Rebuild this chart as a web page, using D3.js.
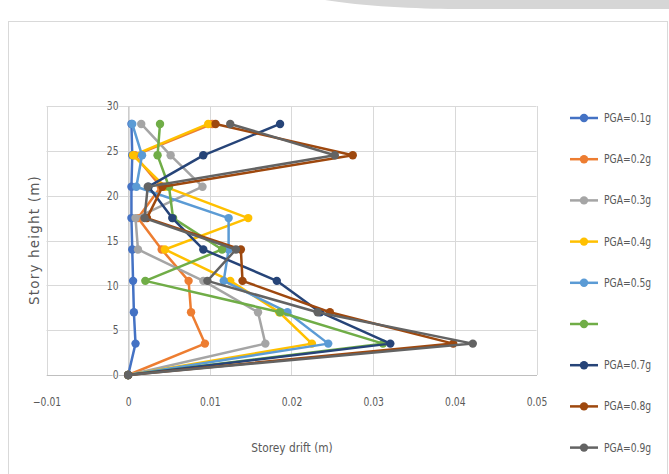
<!DOCTYPE html>
<html>
<head>
<meta charset="utf-8">
<script src="https://cdn.jsdelivr.net/npm/d3@7"></script>
<style>
  html, body { margin: 0; padding: 0; background: #fff; }
  svg { display: block; }
  text { font-family: "DejaVu Sans", sans-serif; }
</style>
</head>
<body>
<svg id="chart" width="669" height="474"></svg>
<script>
// Storey heights (m) shared by every series
const heights = [0, 3.5, 7, 10.5, 14, 17.5, 21, 24.5, 28];

// Storey drift (m) per PGA level, listed bottom to top
const pga01 = [0, 0.0009, 0.0007, 0.0006, 0.0005, 0.0004, 0.0004, 0.0005, 0.0004];
const pga02 = [0, 0.0094, 0.0077, 0.0074, 0.0041, 0.0012, 0.0040, 0.0008, 0.0103];
const pga03 = [0, 0.0168, 0.0159, 0.0092, 0.0012, 0.0009, 0.0091, 0.0052, 0.0016];
const pga04 = [0, 0.0225, 0.0185, 0.0125, 0.0045, 0.0147, 0.0045, 0.0006, 0.0098];
const pga05 = [0, 0.0245, 0.0195, 0.0117, 0.0123, 0.0123, 0.0010, 0.0017, 0.0005];
const pga06 = [0, 0.0312, 0.0186, 0.0021, 0.0115, 0.0055, 0.0050, 0.0036, 0.0039];
const pga07 = [0, 0.0321, 0.0235, 0.0182, 0.0092, 0.0054, 0.0025, 0.0092, 0.0186];
const pga08 = [0, 0.0398, 0.0247, 0.0140, 0.0138, 0.0023, 0.0042, 0.0275, 0.0107];
const pga09 = [0, 0.0422, 0.0232, 0.0097, 0.0132, 0.0020, 0.0024, 0.0253, 0.0125];

const seriesNames = ["PGA=0.1g", "PGA=0.2g", "PGA=0.3g", "PGA=0.4g", "PGA=0.5g", "", "PGA=0.7g", "PGA=0.8g", "PGA=0.9g"];
const seriesValues = [pga01, pga02, pga03, pga04, pga05, pga06, pga07, pga08, pga09];
const seriesColors = ["#4472C4", "#ED7D31", "#A5A5A5", "#FFC000", "#5B9BD5", "#70AD47", "#264478", "#9E480E", "#636363"];

const xTicks = [-0.01, 0, 0.01, 0.02, 0.03, 0.04, 0.05];
const yTicks = [0, 5, 10, 15, 20, 25, 30];

const svg = d3.select("#chart");

// squeeze a text element horizontally to a narrow face
function narrow(sel, k) {
  sel.each(function () {
    const w = this.getComputedTextLength();
    if (w > 0) d3.select(this).attr("textLength", w * k).attr("lengthAdjust", "spacingAndGlyphs");
  });
}

// page decoration strip and chart frame
svg.append("path")
  .attr("d", "M325,0 L669,0 L669,9 L455,9 C420,9 360,6 325,0 Z")
  .attr("fill", "#d6d6d6");
svg.append("rect")
  .attr("x", 8.5).attr("y", 21.5).attr("width", 659).attr("height", 470)
  .attr("fill", "#fff").attr("stroke", "#d9d9d9").attr("stroke-width", 1);

const x = d3.scaleLinear().domain([-0.01, 0.05]).range([46.5, 536.5]);
const y = d3.scaleLinear().domain([0, 30]).range([375, 106]);

// gridlines
const grid = svg.append("g");
grid.selectAll("line.h").data(yTicks).join("line")
  .attr("x1", x(-0.01)).attr("x2", x(0.05))
  .attr("y1", d => Math.round(y(d)) + 0.5).attr("y2", d => Math.round(y(d)) + 0.5)
  .attr("stroke", "#d9d9d9");
grid.selectAll("line.v").data(xTicks).join("line")
  .attr("y1", y(0)).attr("y2", y(30))
  .attr("x1", d => Math.round(x(d)) + 0.5).attr("x2", d => Math.round(x(d)) + 0.5)
  .attr("stroke", "#d9d9d9");

// axes through the origin
const xAxis = d3.axisBottom(x).tickValues(xTicks).tickSize(0).tickPadding(23)
  .tickFormat(d => d === 0 ? "0" : d3.format(".2f")(d));
const gx = svg.append("g").attr("transform", `translate(0,${y(0)})`).call(xAxis);
gx.select(".domain").attr("stroke", "#bfbfbf");
gx.selectAll("text").attr("fill", "#595959").attr("font-size", 11.5).call(narrow, 0.8);

const yAxis = d3.axisLeft(y).tickValues(yTicks).tickSize(0).tickPadding(10);
const gy = svg.append("g").attr("transform", `translate(${Math.round(x(0)) + 0.5},0)`).call(yAxis);
gy.select(".domain").attr("stroke", "#bfbfbf");
gy.selectAll("text").attr("fill", "#595959").attr("font-size", 11.5)
  .attr("paint-order", "stroke").attr("stroke", "#fff").attr("stroke-width", 2)
  .call(narrow, 0.8);

// axis titles
svg.append("text").attr("x", 292).attr("y", 452).attr("text-anchor", "middle")
  .attr("font-size", 12.5).attr("fill", "#595959").text("Storey drift (m)")
  .call(narrow, 0.85);
svg.append("text").attr("transform", "translate(39,240) rotate(-90)")
  .attr("text-anchor", "middle").attr("font-size", 13.5).attr("fill", "#595959")
  .attr("letter-spacing", 1.2).text("Story height (m)");

// series lines and markers
const line = d3.line().x(d => x(d[0])).y(d => y(d[1]));
const plot = svg.append("g");
seriesValues.forEach((vals, i) => {
  const pts = vals.map((v, k) => [v, heights[k]]);
  const g = plot.append("g");
  g.append("path").datum(pts).attr("d", line)
    .attr("fill", "none").attr("stroke", seriesColors[i])
    .attr("stroke-width", 2.5).attr("stroke-linejoin", "round");
  g.selectAll("circle").data(pts).join("circle")
    .attr("cx", d => x(d[0])).attr("cy", d => y(d[1])).attr("r", 4.2)
    .attr("fill", seriesColors[i]);
});

// legend
const legend = svg.append("g");
seriesNames.forEach((name, i) => {
  const ly = 118 + i * 41.2;
  const g = legend.append("g").attr("transform", `translate(0,${ly})`);
  g.append("line").attr("x1", 570).attr("x2", 598).attr("y1", 0).attr("y2", 0)
    .attr("stroke", seriesColors[i]).attr("stroke-width", 2.5);
  g.append("circle").attr("cx", 584).attr("cy", 0).attr("r", 4.2).attr("fill", seriesColors[i]);
  if (name) {
    g.append("text").attr("x", 604).attr("y", 4).attr("font-size", 11.5)
      .attr("fill", "#595959").text(name).call(narrow, 0.8);
  }
});
</script>
</body>
</html>
